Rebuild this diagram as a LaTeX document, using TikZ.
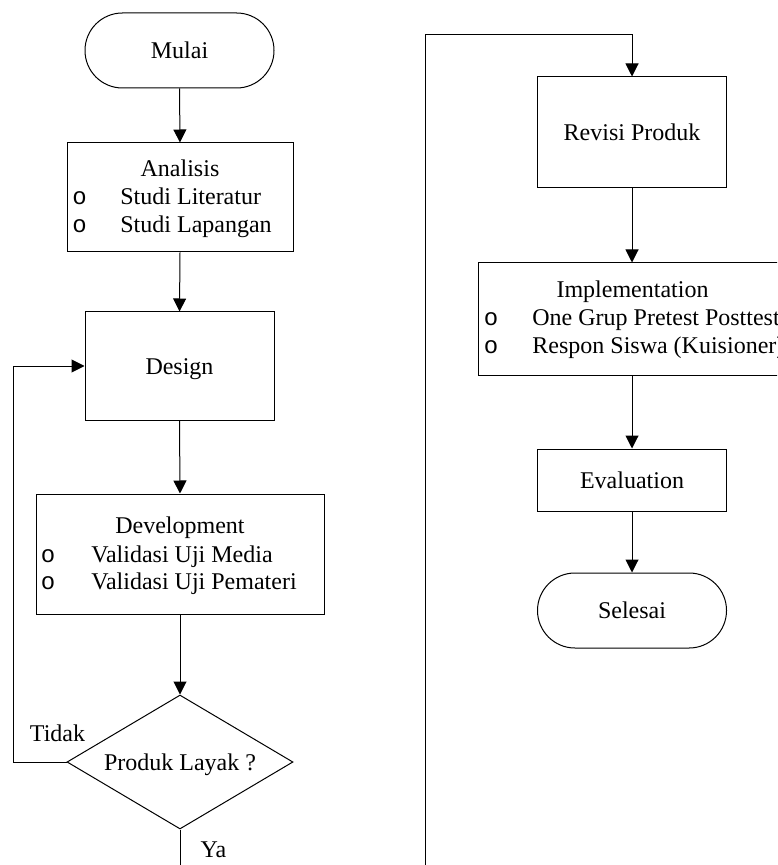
\documentclass[tikz,border=0pt]{standalone}
\usepackage{fontspec}
\setmainfont{Liberation Serif}
\newfontfamily\bulletfont{Liberation Mono}
\usetikzlibrary{arrows.meta,shapes.geometric}
\begin{document}
\begin{tikzpicture}[x=0.5pt,y=-0.5pt, font=\fontsize{12}{14}\selectfont,
 box/.style={draw,line width=0.5pt,rectangle,inner sep=0pt,text height=8pt,text depth=0pt},
 term/.style={box,rounded corners=18.7pt},
 decision/.style={draw,line width=0.5pt,diamond,aspect=1.69,inner sep=0pt,text height=8pt,text depth=0pt},
 arr/.style={draw,line width=0.5pt,-{Triangle[width=6.5pt,length=6.5pt]}},
 plain/.style={draw,line width=0.5pt},
 txt/.style={inner sep=0pt,anchor=base},
 item/.style={inner sep=0pt,anchor=base west},
 bul/.style={inner sep=0pt,anchor=base,font=\bulletfont\fontsize{12}{14}\selectfont}]
\useasboundingbox (0,0) rectangle (777,865);
\clip (0,0) rectangle (777,865);

% left column
\node[term,minimum width=94.5pt,minimum height=37.5pt] (mulai) at (179.5,50.5) {Mulai};

\node[box,minimum width=113pt,minimum height=54.5pt] (analisis) at (180,197.5) {};
\node[txt] (tana) at (180,177) {Analisis};
\node[bul] (ba1) at (79.5,205) {o};
\node[item] (ia1) at (120,205) {Studi Literatur};
\node[bul] (ba2) at (79.5,233) {o};
\node[item] (ia2) at (120,233) {Studi Lapangan};

\node[box,minimum width=94.5pt,minimum height=54pt] (design) at (179.5,366) {Design};

\node[box,minimum width=144pt,minimum height=60pt] (dev) at (180,554) {};
\node[txt] (tdev) at (180,533) {Development};
\node[bul] (bd1) at (48,562) {o};
\node[item] (id1) at (91,562) {Validasi Uji Media};
\node[bul] (bd2) at (48,589) {o};
\node[item] (id2) at (91,589) {Validasi Uji Pemateri};

\node[decision,minimum width=113pt,minimum height=67pt] (dia) at (180,762) {Produk Layak ?};
\node[txt] (tidak) at (57.5,741) {Tidak};
\node[txt] (ya) at (213.5,857) {Ya};

% right column
\node[box,minimum width=94.5pt,minimum height=55.5pt] (revisi) at (632,132.5) {Revisi Produk};

\node[box,minimum width=154.5pt,minimum height=56pt] (impl) at (632.5,319) {};
\node[txt] (timpl) at (632.5,298) {Implementation};
\node[bul] (bi1) at (491,326) {o};
\node[item] (ii1) at (532,326) {One Grup Pretest Posttest};
\node[bul] (bi2) at (491,354) {o};
\node[item] (ii2) at (532,354) {Respon Siswa (Kuisioner)};

\node[box,minimum width=94.5pt,minimum height=31pt] (eval) at (632,480) {Evaluation};
\node[term,minimum width=94.5pt,minimum height=37.5pt] (selesai) at (632,610.5) {Selesai};

% connectors
\draw[arr] (mulai.south) -- (analisis.north);
\draw[arr] (analisis.south) -- (design.north);
\draw[arr] (design.south) -- (dev.north);
\draw[arr] (dev.south) -- (dia.north);
\coordinate (loopl) at (13,762);
\draw[arr] (dia.west) -- (loopl) |- (design.west);
\coordinate (yaend) at (180,870);
\draw[plain] (dia.south) -- (yaend);

\coordinate (rbot) at (425,870);
\coordinate (rtop) at (425,35);
\draw[arr] (rbot) -- (rtop) -| (revisi.north);
\draw[arr] (revisi.south) -- (revisi.south |- impl.north);
\draw[arr] (impl.south -| eval.north) -- (eval.north);
\draw[arr] (eval.south) -- (selesai.north);
\end{tikzpicture}
\end{document}
